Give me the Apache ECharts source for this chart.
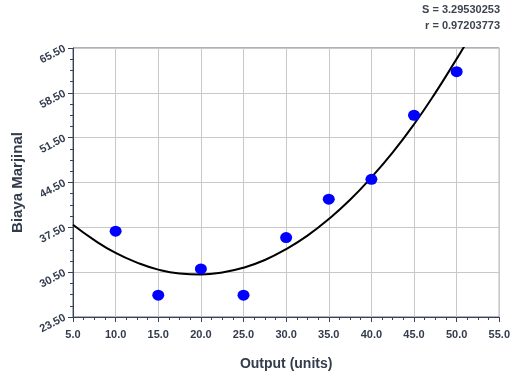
<!DOCTYPE html>
<html>
<head>
<meta charset="utf-8">
<script src="https://cdn.jsdelivr.net/npm/echarts@6/dist/echarts.min.js"></script>
<style>
  html, body { margin: 0; padding: 0; background: #fff; }
  #chart { width: 513px; height: 376px; }
</style>
</head>
<body>
<div id="chart"></div>
<script>
// observed points
const outputUnits = [10, 15, 20, 25, 30, 35, 40, 45, 50];
const marginalCost = [36.9, 26.9, 31.0, 26.9, 35.9, 41.9, 45.0, 55.0, 61.8];

// fitted curve
const fitX = [5, 7.5, 10, 12.5, 15, 17.5, 20, 22.5, 25, 27.5, 30, 32.5, 35, 37.5, 40, 42.5, 45, 47.5, 50, 51];
const fitY = [37.9, 35.5, 33.5, 32.0, 30.9, 30.3, 30.15, 30.45, 31.2, 32.4, 34.1, 36.2, 38.8, 41.8, 45.3, 49.2, 53.6, 58.5, 63.8, 66.0];

const statLines = ['S = 3.29530253', 'r = 0.97203773'];

const FONT = 'Liberation Sans, Arial, sans-serif';
const AXIS_COLOR = '#37415a';
const TEXT_COLOR = '#333c4c';

const chart = echarts.init(document.getElementById('chart'));

const option = {
  animation: false,
  backgroundColor: '#fff',
  grid: {
    left: 73,
    right: 11,
    top: 48,
    bottom: 56,
    show: true,
    borderColor: '#5a6272',
    borderWidth: 1,
  },
  graphic: statLines.map((txt, i) => ({
    type: 'text',
    right: 13,
    top: 4 + i * 16,
    style: {
      text: txt,
      font: 'bold 11px ' + FONT,
      fill: '#3d4450',
    },
  })),
  xAxis: {
    type: 'value',
    min: 5,
    max: 55,
    interval: 5,
    name: 'Output (units)',
    nameLocation: 'middle',
    nameGap: 40,
    nameTextStyle: {
      fontFamily: FONT,
      fontWeight: 'bold',
      fontSize: 14,
      color: TEXT_COLOR,
    },
    axisLine: { show: true, lineStyle: { color: AXIS_COLOR, width: 1 } },
    axisTick: { show: true, length: 5, lineStyle: { color: AXIS_COLOR } },
    minorTick: { show: true, splitNumber: 4, length: 3, lineStyle: { color: AXIS_COLOR } },
    axisLabel: {
      margin: 12,
      fontFamily: FONT,
      fontWeight: 'bold',
      fontSize: 11,
      color: TEXT_COLOR,
      formatter: (v) => v.toFixed(1),
    },
    splitLine: { show: true, lineStyle: { color: '#c8c8c8', width: 1 } },
  },
  yAxis: {
    type: 'value',
    min: 23.5,
    max: 65.5,
    interval: 7,
    name: 'Biaya Marjinal',
    nameLocation: 'middle',
    nameGap: 48,
    nameTextStyle: {
      fontFamily: FONT,
      fontWeight: 'bold',
      fontSize: 15,
      color: TEXT_COLOR,
    },
    axisLine: { show: true, lineStyle: { color: AXIS_COLOR, width: 1 } },
    axisTick: { show: true, length: 5, lineStyle: { color: AXIS_COLOR } },
    minorTick: { show: true, splitNumber: 4, length: 3, lineStyle: { color: AXIS_COLOR } },
    axisLabel: {
      margin: 8,
      rotate: 28,
      fontFamily: FONT,
      fontWeight: 'bold',
      fontSize: 11,
      color: TEXT_COLOR,
      formatter: (v) => v.toFixed(2),
    },
    splitLine: { show: true, lineStyle: { color: '#c8c8c8', width: 1 } },
  },
  series: [
    {
      name: 'fit',
      type: 'line',
      data: fitX.map((x, i) => [x, fitY[i]]),
      smooth: true,
      showSymbol: false,
      clip: true,
      lineStyle: { color: '#000', width: 2 },
      z: 2,
    },
    {
      name: 'data',
      type: 'scatter',
      data: outputUnits.map((x, i) => [x, marginalCost[i]]),
      symbol: 'circle',
      symbolSize: [12, 11],
      itemStyle: { color: '#0000ff', opacity: 1 },
      z: 3,
    },
  ],
};

chart.setOption(option);
</script>
</body>
</html>
